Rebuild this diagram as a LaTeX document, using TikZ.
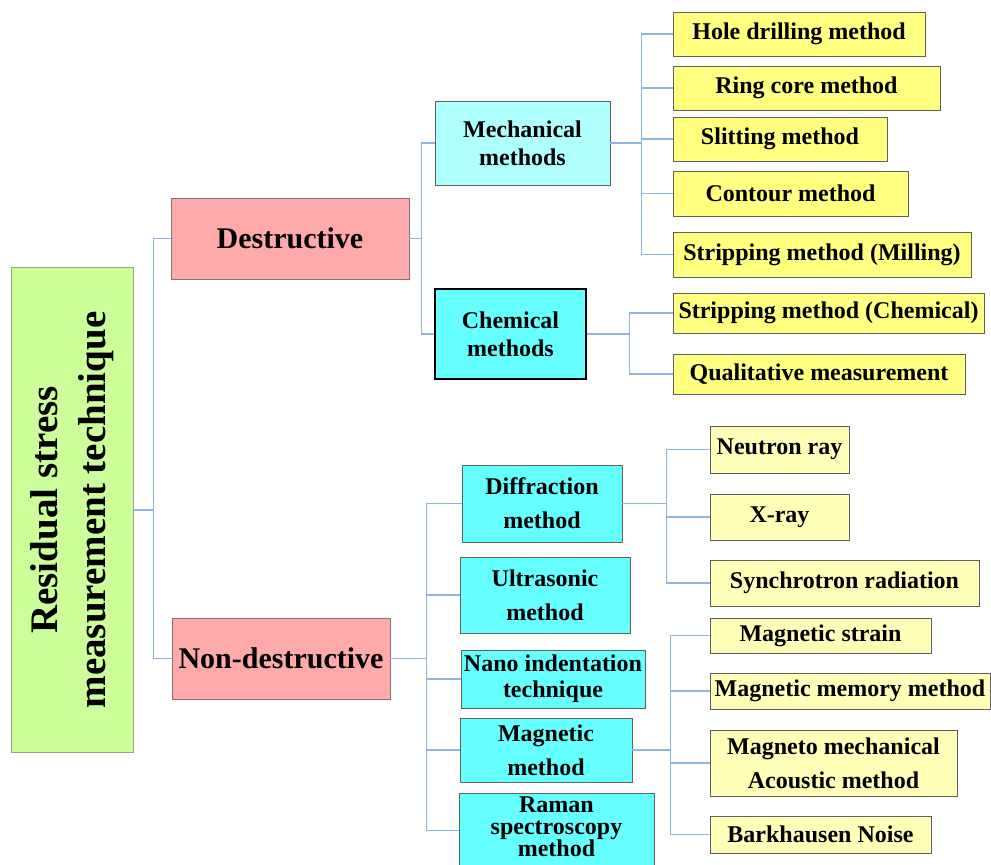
\documentclass[tikz,border=0pt]{standalone}
\usepackage{fontspec}
\setmainfont{Liberation Serif}
\usepackage{tikz}
\usetikzlibrary{positioning}

\begin{document}
\begin{tikzpicture}[
    x=1pt, y=-1pt,
    box/.style={rectangle, draw=gray!75!black, line width=0.8pt, inner sep=0pt, align=center},
    rootbox/.style={box, fill=rootfill, draw=rootborder, rotate=90,
        minimum width=485pt, minimum height=122pt,
        font=\bfseries\fontsize{39}{48}\selectfont},
    topbox/.style={box, fill=pinkfill, draw=pinkborder, minimum height=81pt,
        font=\bfseries\fontsize{30}{36}\selectfont},
    midbox/.style={box, fill=cyanfill, font=\bfseries\fontsize{24}{28}\selectfont},
    loose/.style={font=\bfseries\fontsize{24}{34}\selectfont},
    leaf/.style={box, fill=leaffill, font=\bfseries\fontsize{24}{34}\selectfont},
    paleleaf/.style={leaf, fill=palefill},
    link/.style={draw=linkcolor, line width=1.1pt},
]

% ── Colors ──
\definecolor{rootfill}{HTML}{CCFF99}
\definecolor{rootborder}{HTML}{8FA882}
\definecolor{pinkfill}{HTML}{FFAAAA}
\definecolor{pinkborder}{HTML}{8A7070}
\definecolor{mechfill}{HTML}{B0FFFF}
\definecolor{cyanfill}{HTML}{66FFFF}
\definecolor{leaffill}{HTML}{FFFF80}
\definecolor{palefill}{HTML}{FFFFB8}
\definecolor{linkcolor}{HTML}{8DB4E2}

\useasboundingbox (0,0) rectangle (991,865);
\clip (0,0) rectangle (991,865);

% ══════════════════════════════════════════════
% LEVEL 0: Root
% ══════════════════════════════════════════════
\node[rootbox] (root) at (72,510) {Residual stress\\measurement technique};

% ══════════════════════════════════════════════
% LEVEL 1: Destructive / Non-destructive
% ══════════════════════════════════════════════
\node[topbox, minimum width=238pt] (destr) at (290,238.5) {Destructive};
\node[topbox, minimum width=218pt] (nondestr) at (281,658.5) {Non-destructive};

% ══════════════════════════════════════════════
% LEVEL 2: Method groups
% ══════════════════════════════════════════════
\node[midbox, fill=mechfill, minimum width=175pt, minimum height=84pt]
    (mech) at (522.5,143) {Mechanical\\methods};
\node[midbox, draw=black, line width=1.6pt, minimum width=151pt, minimum height=90pt]
    (chem) at (510.5,334) {Chemical\\methods};

\node[midbox, loose, minimum width=160pt, minimum height=77pt]
    (diffr) at (542,503.5) {Diffraction\\method};
\node[midbox, loose, minimum width=170pt, minimum height=76pt]
    (ultra) at (545,595) {Ultrasonic\\method};
\node[midbox, font=\bfseries\fontsize{24}{26}\selectfont, minimum width=184pt, minimum height=58pt]
    (nano) at (553,679) {Nano indentation\\technique};
\node[midbox, loose, minimum width=172pt, minimum height=64pt]
    (magn) at (546,750) {Magnetic\\method};
\node[midbox, font=\bfseries\fontsize{24}{22}\selectfont, minimum width=195pt, minimum height=74pt,
    text depth=8pt, anchor=north] (raman) at (556.5,793) {Raman\\spectroscopy\\method};

% ══════════════════════════════════════════════
% LEVEL 3: Destructive techniques
% ══════════════════════════════════════════════
\node[leaf, minimum width=252pt, minimum height=44pt] (hole) at (799,34) {Hole drilling method};
\node[leaf, minimum width=267pt, minimum height=44pt] (ring) at (806.5,88) {Ring core method};
\node[leaf, minimum width=214pt, minimum height=44pt] (slit) at (780,139) {Slitting method};
\node[leaf, minimum width=235pt, minimum height=45pt] (contour) at (790.5,193.5) {Contour method};
\node[leaf, minimum width=298pt, minimum height=45pt] (milling) at (822,254.5) {Stripping method (Milling)};
\node[leaf, minimum width=311pt, minimum height=40pt] (stripchem) at (828.5,313) {Stripping method (Chemical)};
\node[leaf, minimum width=292pt, minimum height=40pt] (quali) at (819,374) {Qualitative measurement};

% ══════════════════════════════════════════════
% LEVEL 3: Non-destructive techniques
% ══════════════════════════════════════════════
\node[paleleaf, minimum width=139pt, minimum height=47pt] (neutron) at (779.5,449.5) {Neutron ray};
\node[paleleaf, minimum width=139pt, minimum height=46pt] (xray) at (779.5,517) {X-ray};
\node[paleleaf, minimum width=269pt, minimum height=46pt] (synch) at (844.5,583) {Synchrotron radiation};
\node[paleleaf, minimum width=221pt, minimum height=35pt] (mstrain) at (820.5,635.5) {Magnetic strain};
\node[paleleaf, minimum width=280pt, minimum height=36pt] (mmemory) at (850,691) {Magnetic memory method};
\node[paleleaf, minimum width=247pt, minimum height=66pt] (macoustic) at (833.5,763) {Magneto mechanical\\Acoustic method};
\node[paleleaf, minimum width=221pt, minimum height=37pt] (barkh) at (820.5,834.5) {Barkhausen Noise};

% ══════════════════════════════════════════════
% Links
% ══════════════════════════════════════════════
\foreach \c in {destr,nondestr}
    \draw[link] (root.south) -- ++(20,0) |- (\c.west);
\foreach \c in {mech,chem}
    \draw[link] (destr.east) -- ++(12,0) |- (\c.west);
\foreach \c in {hole,ring,slit,contour,milling}
    \draw[link] (mech.east) -- ++(31,0) |- (\c.west);
\foreach \c in {stripchem,quali}
    \draw[link] (chem.east) -- ++(43,0) |- (\c.west);
\foreach \c in {diffr,ultra,nano,magn,raman}
    \draw[link] (nondestr.east) -- ++(36,0) |- (\c.west);
\foreach \c in {neutron,xray,synch}
    \draw[link] (diffr.east) -- ++(44,0) |- (\c.west);
\foreach \c in {mstrain,mmemory,macoustic,barkh}
    \draw[link] (magn.east) -- ++(38,0) |- (\c.west);

\end{tikzpicture}
\end{document}
